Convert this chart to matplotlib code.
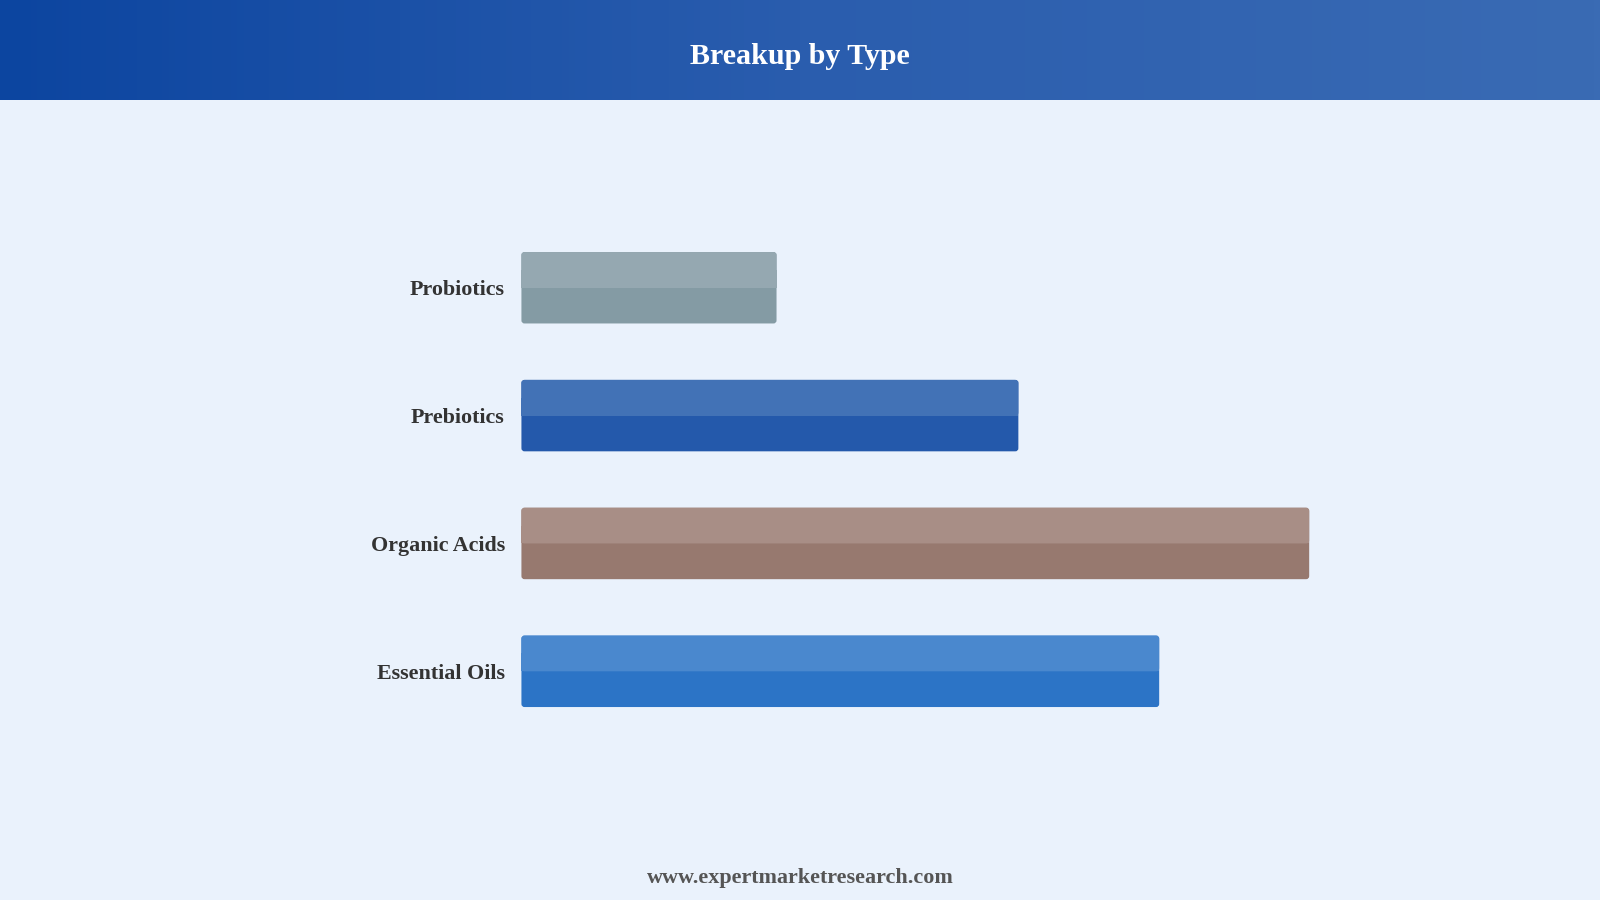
import numpy as np
import matplotlib
matplotlib.use("Agg")
import matplotlib.pyplot as plt
from matplotlib.patches import FancyBboxPatch
from matplotlib.colors import LinearSegmentedColormap

# Data
categories = ["Probiotics", "Prebiotics", "Organic Acids", "Essential Oils"]
values = [25.0, 48.7, 77.2, 62.5]
top_colors = ["#95A8B1", "#4272B6", "#A88E86", "#4A88CE"]
bottom_colors = ["#849BA4", "#2459AB", "#97796F", "#2C74C6"]

title = "Breakup by Type"
footer = "www.expertmarketresearch.com"

BG = "#EAF2FC"
W, H = 1568.0, 882.0  # reference pixel frame

fig = plt.figure(figsize=(16, 9), dpi=100, facecolor=BG)

# Header gradient band
hdr = fig.add_axes([0, 1 - 98 / H, 1, 98 / H])
grad = np.linspace(0, 1, 512).reshape(1, -1)
cmap = LinearSegmentedColormap.from_list("hdr", ["#0C45A0", "#2A5DAE", "#3A6BB4"])
hdr.imshow(grad, aspect="auto", cmap=cmap, extent=[0, 1, 0, 1])
hdr.set_axis_off()
fig.text(0.5, 1 - 55 / H, title, ha="center", va="center", color="white",
         fontsize=21.6, fontweight="bold", family="Liberation Serif")

# Main axes
left = 511 / W
width = 1000 / W
unit = 125.3 / H
height = 4 * unit
top = (282 - 62.65) / H
bottom = 1 - top - height
ax = fig.add_axes([left, bottom, width, height])
ax.set_facecolor(BG)
ax.set_xlim(0, 100)
ax.set_ylim(3.5, -0.5)
ypos = np.arange(len(categories))
bh = 70 / 125.3

bars = ax.barh(ypos, values, height=bh, color=bottom_colors)
tops = ax.barh(ypos - bh / 4, values, height=bh / 2, color=top_colors)

# Round the corners of the bars
x_per_px = 100 / 1000.0
y_per_px = 1 / 125.3
r = 3 * x_per_px
for rect, c in zip(bars, bottom_colors):
    rect.set_visible(False)
    x0, y0 = rect.get_x(), rect.get_y()
    w, h = rect.get_width(), rect.get_height()
    p = FancyBboxPatch((x0, y0), w, h,
                       boxstyle=f"round,pad=0,rounding_size={r}",
                       mutation_aspect=y_per_px / x_per_px,
                       fc=c, ec="none", zorder=1)
    ax.add_patch(p)
for rect, c in zip(tops, top_colors):
    rect.set_visible(False)
    x0, y0 = rect.get_x(), rect.get_y()
    w, h = rect.get_width(), rect.get_height()
    p = FancyBboxPatch((x0, y0), w, h,
                       boxstyle=f"round,pad=0,rounding_size={r}",
                       mutation_aspect=y_per_px / x_per_px,
                       fc=c, ec="none", zorder=2)
    ax.add_patch(p)
    # square off lower corners of the top half
    ax.barh(rect.get_y() + h * 0.75, w, height=h / 2, left=x0, color=c,
            zorder=2)

ax.set_yticks(ypos)
ax.set_yticklabels(categories, fontsize=15.8, fontweight="bold",
                   family="Liberation Serif", color="#333333")
ax.tick_params(axis="y", length=0, pad=12)
ax.set_xticks([])
for s in ax.spines.values():
    s.set_visible(False)

fig.text(0.5, 1 - 860 / H, footer, ha="center", va="center", color="#555555",
         fontsize=15.9, fontweight="bold", family="Liberation Serif")

fig.savefig("out.png", dpi=100, facecolor=BG)
